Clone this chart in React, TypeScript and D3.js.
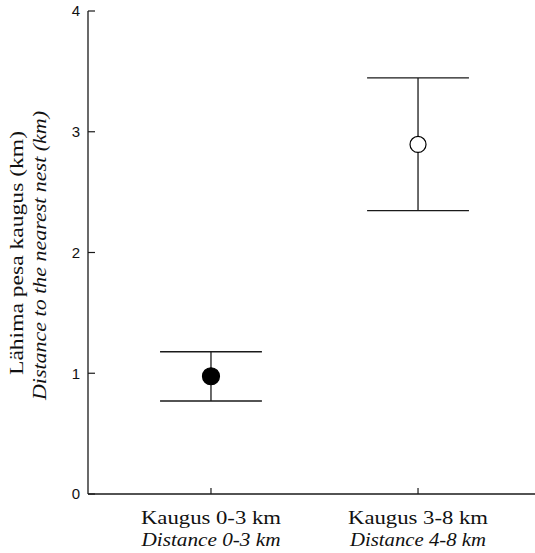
import React from 'react';
import * as d3 from 'd3';

const groups = ['Kaugus 0-3 km', 'Kaugus 3-8 km'];
const groupsEn = ['Distance 0-3 km', 'Distance 4-8 km'];
const groupPos = [1, 2];
const means = [0.975, 2.895];
const lower = [0.77, 2.346];
const upper = [1.178, 3.446];
const filled = [true, false];
const yTicks = [0, 1, 2, 3, 4];

const W = 535;
const H = 553;

const App = () => {
  const x = d3.scaleLinear().domain([0.406, 2.565]).range([88, 535]);
  const y = d3.scaleLinear().domain([0, 4]).range([494, 11]);
  const capHalf = 0.246;
  const stroke = '#1a1a1a';
  const serif = '"Liberation Serif", "Times New Roman", serif';
  const sans = '"Liberation Sans", Arial, sans-serif';
  // widths of the Palatino-like labels in the original
  const labelLen = [140, 140];
  const labelEnLen = [139, 136];

  return (
    <svg width={W} height={H} style={{ position: 'absolute', left: 0, top: 0, background: '#fff' }}>
      {/* axes */}
      <line x1={x.range()[0]} x2={x.range()[0]} y1={y(4)} y2={y(0)} stroke={stroke} strokeWidth={1.3} />
      <line x1={x.range()[0]} x2={x.range()[1]} y1={y(0)} y2={y(0)} stroke={stroke} strokeWidth={1.3} />
      {yTicks.map(t => (
        <g key={t}>
          <line x1={88} x2={95} y1={y(t)} y2={y(t)} stroke={stroke} strokeWidth={1.2} />
          <text x={80} y={y(t)} dy="0.35em" textAnchor="end" fontFamily={sans} fontSize={15} fill="#111">{t}</text>
        </g>
      ))}
      {groupPos.map((g, i) => (
        <g key={g}>
          <line x1={x(g)} x2={x(g)} y1={y(0)} y2={y(0) - 6} stroke={stroke} strokeWidth={1.2} />
          <text x={x(g) - labelLen[i] / 2} y={523.5} textLength={labelLen[i]} lengthAdjust="spacingAndGlyphs"
            fontFamily={serif} fontSize={19} fill="#111">{groups[i]}</text>
          <text x={x(g) - labelEnLen[i] / 2} y={546} textLength={labelEnLen[i]} lengthAdjust="spacingAndGlyphs"
            fontFamily={serif} fontStyle="italic" fontSize={19} fill="#111">{groupsEn[i]}</text>
        </g>
      ))}
      <g transform="rotate(-90)">
        <text x={-375} y={23} textLength={244} lengthAdjust="spacingAndGlyphs"
          fontFamily={serif} fontSize={19} fill="#111">Lähima pesa kaugus (km)</text>
        <text x={-400} y={46} textLength={289} lengthAdjust="spacingAndGlyphs"
          fontFamily={serif} fontStyle="italic" fontSize={19} fill="#111">Distance to the nearest nest (km)</text>
      </g>
      {/* error bars and means */}
      {groupPos.map((g, i) => (
        <g key={'e' + g}>
          <line x1={x(g)} x2={x(g)} y1={y(lower[i])} y2={y(upper[i])} stroke={stroke} strokeWidth={1.3} />
          <line x1={x(g - capHalf)} x2={x(g + capHalf)} y1={y(upper[i])} y2={y(upper[i])} stroke={stroke} strokeWidth={1.3} />
          <line x1={x(g - capHalf)} x2={x(g + capHalf)} y1={y(lower[i])} y2={y(lower[i])} stroke={stroke} strokeWidth={1.3} />
          <circle cx={x(g)} cy={y(means[i])} r={filled[i] ? 8.5 : 8}
            fill={filled[i] ? '#000' : '#fff'} stroke="#000" strokeWidth={1.2} />
        </g>
      ))}
    </svg>
  );
};

export default App;
